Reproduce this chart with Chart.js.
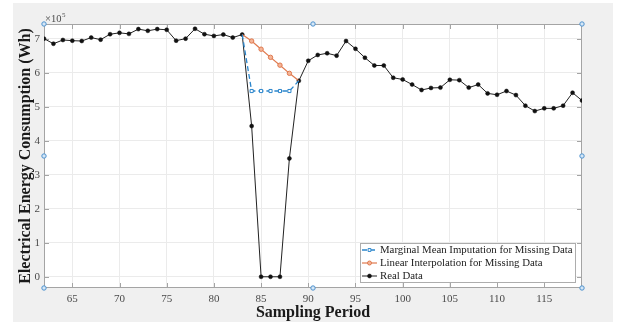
<!DOCTYPE html>
<html>
<head>
<meta charset="utf-8">
<script src="https://cdn.jsdelivr.net/npm/chart.js@4.4.1/dist/chart.umd.min.js"></script>
<style>
    html, body { margin: 0; padding: 0; background: #fff; }
    #wrap { width: 633px; height: 322px; }
</style>
</head>
<body>
<div id="wrap"><canvas id="chart" width="633" height="322"></canvas></div>
<script>
// ===== 数据 =====
const periods = [62, 63, 64, 65, 66, 67, 68, 69, 70, 71, 72, 73, 74, 75, 76, 77, 78, 79, 80, 81,
    82, 83, 84, 85, 86, 87, 88, 89, 90, 91, 92, 93, 94, 95, 96, 97, 98, 99, 100, 101,
    102, 103, 104, 105, 106, 107, 108, 109, 110, 111, 112, 113, 114, 115, 116, 117, 118, 119];
const realData = [700000, 685000, 696000, 694000, 693000, 703000, 697000, 713000, 717000, 714000,
    728000, 723000, 728000, 726000, 694000, 700000, 729000, 713000, 708000, 712000,
    703000, 712000, 443000, 0, 0, 0, 348000, 576000, 635000, 652000,
    657000, 650000, 693000, 670000, 644000, 621000, 621000, 585000, 580000, 565000,
    549000, 555000, 556000, 579000, 578000, 556000, 565000, 539000, 535000, 546000,
    534000, 503000, 487000, 495000, 495000, 503000, 541000, 518000];

// 缺失区间 (83 和 89 为真实端点)
const gapPeriods = [83, 84, 85, 86, 87, 88, 89];
const marginalData = [712000, 546000, 546000, 546000, 546000, 546000, 576000];
const linearData = [712000, 693000, 669000, 645000, 622000, 598000, 576000];

const xTicks = [65, 70, 75, 80, 85, 90, 95, 100, 105, 110, 115];
const yTicks = [0, 100000, 200000, 300000, 400000, 500000, 600000, 700000];
const seriesLabels = [
    'Marginal Mean Imputation for Missing Data',
    'Linear Interpolation for Missing Data',
    'Real Data'
];

// ===== 样式 =====
const SERIF = "'Liberation Serif', 'Times New Roman', serif";
const AXIS_COLOR = '#a4a4a4';
const BLUE = '#2b86cc';
const ORANGE = '#e07a4f';
const BLACK = '#222222';

const toPoints = (xs, ys) => xs.map((x, i) => ({ x: x, y: ys[i] }));
const hideEnds = ctx => (ctx.dataIndex === 0 || ctx.dataIndex === gapPeriods.length - 1) ? 0 : 2.2;

// 灰色背景 + 白色绘图区
const backdropPlugin = {
    id: 'backdrop',
    beforeDraw(chart) {
        const { ctx, chartArea: a } = chart;
        ctx.save();
        ctx.fillStyle = '#ffffff';
        ctx.fillRect(0, 0, chart.width, chart.height);
        ctx.fillStyle = '#f0f0f0';
        ctx.fillRect(13, 3, 600, chart.height - 3);
        ctx.fillStyle = '#ffffff';
        ctx.fillRect(a.left, a.top, a.right - a.left, a.bottom - a.top);
        ctx.restore();
    }
};

// 坐标框和内侧刻度
const boxPlugin = {
    id: 'axisBox',
    beforeDatasetsDraw(chart) {
        const { ctx, chartArea: a, scales } = chart;
        ctx.save();
        ctx.strokeStyle = AXIS_COLOR;
        ctx.lineWidth = 1;
        ctx.strokeRect(a.left + 0.5, a.top + 0.5, a.right - a.left - 1, a.bottom - a.top - 1);
        ctx.beginPath();
        xTicks.forEach(v => {
            const px = Math.round(scales.x.getPixelForValue(v)) + 0.5;
            ctx.moveTo(px, a.bottom); ctx.lineTo(px, a.bottom - 5);
            ctx.moveTo(px, a.top); ctx.lineTo(px, a.top + 5);
        });
        yTicks.forEach(v => {
            const py = Math.round(scales.y.getPixelForValue(v)) + 0.5;
            ctx.moveTo(a.left, py); ctx.lineTo(a.left + 5, py);
            ctx.moveTo(a.right, py); ctx.lineTo(a.right - 5, py);
        });
        ctx.stroke();
        ctx.restore();
    }
};

// 图例、指数标注、选择手柄
const overlayPlugin = {
    id: 'overlay',
    afterDraw(chart) {
        const { ctx, chartArea: a } = chart;
        ctx.save();

        // ×10^5
        ctx.fillStyle = '#4a4a4a';
        ctx.textBaseline = 'alphabetic';
        ctx.textAlign = 'left';
        ctx.font = '10.5px ' + SERIF;
        ctx.fillText('\u00d710', a.left + 1, a.top - 2.5);
        const w = ctx.measureText('\u00d710').width;
        ctx.font = '7px ' + SERIF;
        ctx.fillText('5', a.left + 1 + w + 0.5, a.top - 7);

        // 图例
        const lw = 216, lh = 40;
        const lx = a.right - 6 - lw, ly = a.bottom - 5 - lh;
        ctx.fillStyle = '#ffffff';
        ctx.fillRect(lx, ly, lw, lh);
        ctx.strokeStyle = '#adadad';
        ctx.lineWidth = 1;
        ctx.strokeRect(lx + 0.5, ly + 0.5, lw - 1, lh - 1);
        chart.data.datasets.forEach((ds, i) => {
            const cy = ly + 7 + i * 13;
            ctx.strokeStyle = ds.borderColor;
            ctx.lineWidth = ds.borderWidth;
            ctx.setLineDash(ds.borderDash || []);
            ctx.beginPath();
            ctx.moveTo(lx + 2, cy);
            ctx.lineTo(lx + 17, cy);
            ctx.stroke();
            ctx.setLineDash([]);
            ctx.fillStyle = ds.pointBackgroundColor;
            ctx.strokeStyle = ds.pointBorderColor;
            ctx.lineWidth = ds.pointBorderWidth;
            Chart.helpers.drawPoint(ctx, {
                pointStyle: ds.pointStyle, radius: 2, rotation: 0, borderWidth: ds.pointBorderWidth
            }, lx + 9.5, cy);
            ctx.fillStyle = '#222222';
            ctx.font = '10.8px ' + SERIF;
            ctx.textBaseline = 'middle';
            ctx.fillText(ds.label, lx + 20, cy + 0.5);
        });

        // MATLAB 选择手柄
        const mx = (a.left + a.right) / 2, my = (a.top + a.bottom) / 2;
        const handles = [[a.left, a.top], [mx, a.top], [a.right, a.top], [a.left, my],
            [a.right, my], [a.left, a.bottom], [mx, a.bottom], [a.right, a.bottom]];
        ctx.strokeStyle = '#4f93cf';
        ctx.fillStyle = '#d6e7f6';
        ctx.lineWidth = 1;
        handles.forEach(h => {
            ctx.beginPath();
            ctx.arc(h[0], h[1], 2.2, 0, Math.PI * 2);
            ctx.fill();
            ctx.stroke();
        });
        ctx.restore();
    }
};

new Chart(document.getElementById('chart'), {
    type: 'line',
    data: {
        datasets: [{
            label: seriesLabels[0],
            data: toPoints(gapPeriods, marginalData),
            borderColor: BLUE,
            borderWidth: 1.3,
            borderDash: [5, 3],
            pointStyle: 'rect',
            pointRadius: hideEnds,
            pointBackgroundColor: '#ffffff',
            pointBorderColor: BLUE,
            pointBorderWidth: 1,
            tension: 0,
            fill: false
        }, {
            label: seriesLabels[1],
            data: toPoints(gapPeriods, linearData),
            borderColor: ORANGE,
            borderWidth: 1.2,
            pointStyle: 'circle',
            pointRadius: hideEnds,
            pointBackgroundColor: '#f4b598',
            pointBorderColor: ORANGE,
            pointBorderWidth: 1,
            tension: 0,
            fill: false
        }, {
            label: seriesLabels[2],
            data: toPoints(periods, realData),
            borderColor: BLACK,
            borderWidth: 1,
            pointStyle: 'circle',
            pointRadius: 2,
            pointBackgroundColor: '#111111',
            pointBorderColor: '#111111',
            pointBorderWidth: 0.5,
            tension: 0,
            fill: false
        }]
    },
    options: {
        responsive: false,
        animation: false,
        devicePixelRatio: 1,
        layout: { padding: { left: 0, top: 24, right: 51, bottom: 0 } },
        plugins: {
            legend: { display: false },
            tooltip: { enabled: false }
        },
        scales: {
            x: {
                type: 'linear',
                min: 62,
                max: 119,
                afterBuildTicks: s => { s.ticks = xTicks.map(v => ({ value: v })); },
                afterFit: s => { s.height = 34; },
                grid: { color: '#ebebeb', lineWidth: 1, drawTicks: false },
                border: { display: false },
                ticks: { font: { family: SERIF, size: 11 }, color: '#4a4a4a', padding: 5, maxRotation: 0, autoSkip: false },
                title: {
                    display: true,
                    text: 'Sampling Period',
                    color: '#1a1a1a',
                    font: { family: SERIF, size: 16, weight: 'bold', lineHeight: 1 },
                    padding: { top: 0, bottom: 1 }
                }
            },
            y: {
                type: 'linear',
                min: -33000,
                max: 743000,
                afterBuildTicks: s => { s.ticks = yTicks.map(v => ({ value: v })); },
                afterFit: s => { s.width = 44; },
                grid: { color: '#ebebeb', lineWidth: 1, drawTicks: false },
                border: { display: false },
                ticks: {
                    font: { family: SERIF, size: 11 }, color: '#4a4a4a', padding: 4, autoSkip: false,
                    callback: v => String(v / 100000)
                },
                title: {
                    display: true,
                    text: 'Electrical Energy Consumption (Wh)',
                    color: '#1a1a1a',
                    font: { family: SERIF, size: 16, weight: 'bold', lineHeight: 1 },
                    padding: { top: 18, bottom: 0 }
                }
            }
        }
    },
    plugins: [backdropPlugin, boxPlugin, overlayPlugin]
});
</script>
</body>
</html>
